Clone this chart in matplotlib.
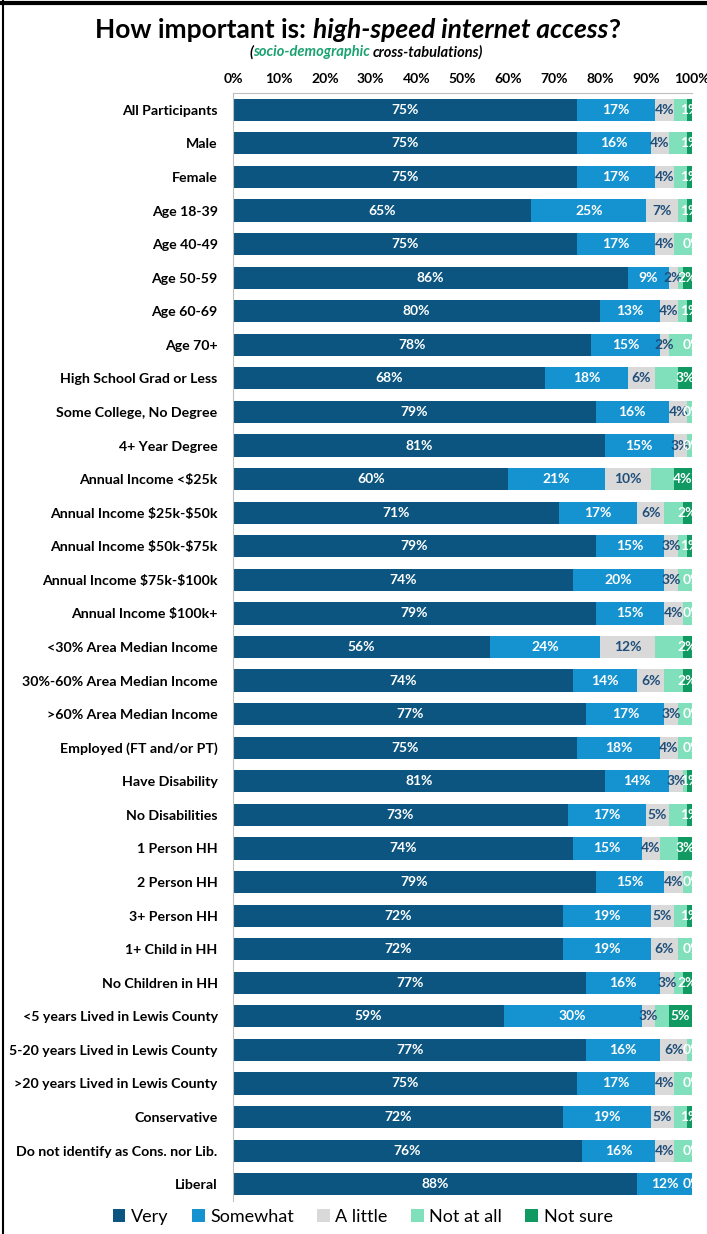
import matplotlib.pyplot as plt
import numpy as np

plt.rcParams['font.family'] = ['Lato', 'DejaVu Sans']
plt.rcParams['text.parse_math'] = False

groups = [
    "All Participants", "Male", "Female", "Age 18-39", "Age 40-49", "Age 50-59",
    "Age 60-69", "Age 70+", "High School Grad or Less", "Some College, No Degree",
    "4+ Year Degree", "Annual Income <$25k", "Annual Income $25k-$50k",
    "Annual Income $50k-$75k", "Annual Income $75k-$100k", "Annual Income $100k+",
    "<30% Area Median Income", "30%-60% Area Median Income", ">60% Area Median Income",
    "Employed (FT and/or PT)", "Have Disability", "No Disabilities", "1 Person HH",
    "2 Person HH", "3+ Person HH", "1+ Child in HH", "No Children in HH",
    "<5 years Lived in Lewis County", "5-20 years Lived in Lewis County",
    ">20 years Lived in Lewis County", "Conservative",
    "Do not identify as Cons. nor Lib.", "Liberal",
]

very     = [75, 75, 75, 65, 75, 86, 80, 78, 68, 79, 81, 60, 71, 79, 74, 79, 56, 74, 77, 75, 81, 73, 74, 79, 72, 72, 77, 59, 77, 75, 72, 76, 88]
somewhat = [17, 16, 17, 25, 17, 9, 13, 15, 18, 16, 15, 21, 17, 15, 20, 15, 24, 14, 17, 18, 14, 17, 15, 15, 19, 19, 16, 30, 16, 17, 19, 16, 12]
a_little = [4, 4, 4, 7, 4, 2, 4, 2, 6, 4, 3, 10, 6, 3, 3, 4, 12, 6, 3, 4, 3, 5, 4, 4, 5, 6, 3, 3, 6, 4, 5, 4, 0]
not_all  = [3, 4, 3, 2, 4, 1, 2, 5, 5, 1, 1, 5, 4, 2, 3, 2, 6, 4, 3, 3, 1, 4, 4, 2, 3, 3, 2, 3, 1, 4, 3, 4, 0]
not_sure = [1, 1, 1, 1, 0, 2, 1, 0, 3, 0, 0, 4, 2, 1, 0, 0, 2, 2, 0, 0, 1, 1, 3, 0, 1, 0, 2, 5, 0, 0, 1, 0, 0]

series = ["Very", "Somewhat", "A little", "Not at all", "Not sure"]
colors = ["#0b5580", "#1592d0", "#d9d9d9", "#80e0bb", "#109a62"]
text_colors = ["white", "white", "#1f4e79", "white", "white"]
data = [very, somewhat, a_little, not_all, not_sure]

fig = plt.figure(figsize=(7.07, 12.34), dpi=100)
ax = fig.add_axes([233 / 707, 1 - 1201 / 1234, (692 - 233) / 707, (1201 - 93) / 1234])

y = np.arange(len(groups))
left = np.zeros(len(groups))
for vals, name, c, tc in zip(data, series, colors, text_colors):
    vals = np.array(vals, dtype=float)
    ax.barh(y, vals, left=left, height=0.66, color=c, label=name)
    for yi, (l, v) in enumerate(zip(left, vals)):
        # Not at all labels are hidden behind the Not sure labels in the original
        if name == "Not at all":
            continue
        if name == "Not sure":
            ax.text(l + v / 2, yi, f"{int(v)}%", ha="center", va="center",
                    color=tc, fontsize=10, fontweight="bold", clip_on=True)
        elif v > 0:
            ax.text(l + v / 2, yi, f"{int(v)}%", ha="center", va="center",
                    color=tc, fontsize=10, fontweight="bold", clip_on=False)
    left += vals

ax.set_xlim(0, 100)
ax.set_ylim(len(groups) - 0.5, -0.5)
ax.set_yticks(y)
ax.set_yticklabels(groups, fontsize=10.2, fontweight="bold")
ax.set_xticks(np.arange(0, 101, 10))
ax.set_xticklabels([f"{v}%" for v in range(0, 101, 10)], fontsize=10, fontweight="bold")
ax.xaxis.tick_top()
ax.tick_params(length=0)
ax.tick_params(axis="y", pad=11)
ax.tick_params(axis="x", pad=6)
for s in ["right", "bottom"]:
    ax.spines[s].set_visible(False)
ax.spines["top"].set_color("#bfbfbf")
ax.spines["left"].set_color("#bfbfbf")

# title and subtitle built from pieces, centred as a whole
def centred_line(pieces, ypos, size, xc=0.5):
    texts = [fig.text(0, ypos, s, fontsize=size, fontweight="bold", style=st, color=col,
                      va="center", ha="left") for s, st, col in pieces]
    fig.canvas.draw()
    r = fig.canvas.get_renderer()
    widths = [t.get_window_extent(r).width / fig.bbox.width for t in texts]
    x = xc - sum(widths) / 2
    for t, w in zip(texts, widths):
        t.set_x(x)
        x += w

centred_line([("How important is: ", "normal", "black"),
              ("high-speed internet access", "italic", "black"),
              ("?", "normal", "black")], 1 - 30 / 1234, 19, 0.506)
centred_line([("(", "italic", "black"),
              ("socio-demographic ", "italic", "#1aa370"),
              ("cross-tabulations)", "italic", "black")], 1 - 52 / 1234, 10.5, 0.518)

fig.legend(loc="center", bbox_to_anchor=(0.513, 1 - 1217 / 1234), ncol=5, frameon=False,
           fontsize=13, handlelength=0.7, handleheight=0.7, handletextpad=0.3,
           columnspacing=1.3)

# screenshot border
fig.add_artist(plt.Line2D([3 / 707, 3 / 707], [0, 1], color="black", lw=1.5))
fig.add_artist(plt.Line2D([0, 1], [1 - 3 / 1234, 1 - 3 / 1234], color="black", lw=3))

fig.savefig("out.png", dpi=100)
